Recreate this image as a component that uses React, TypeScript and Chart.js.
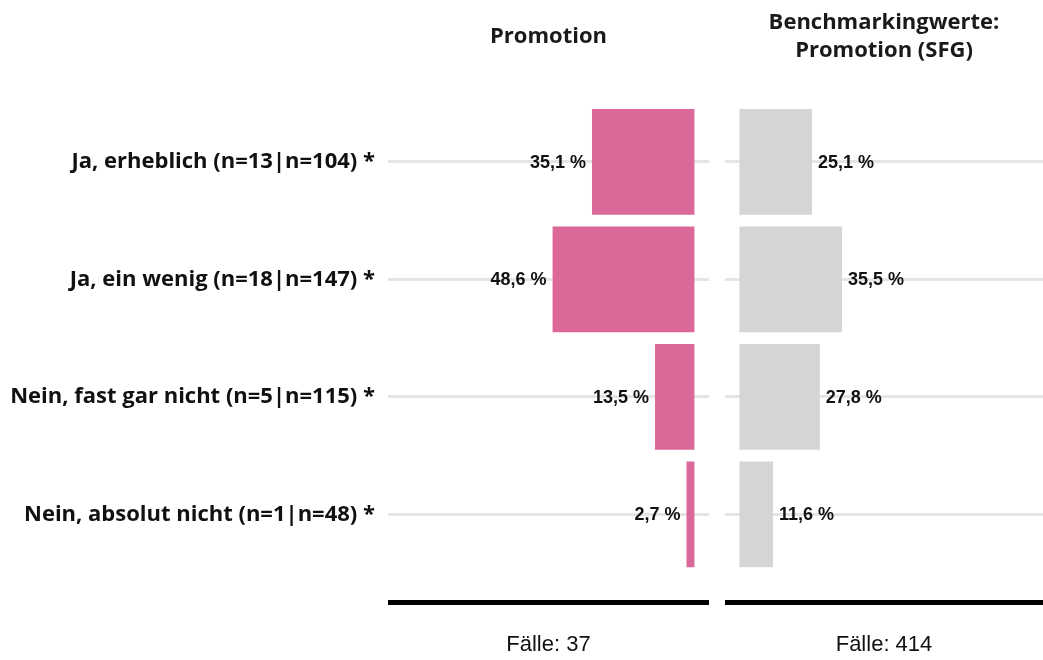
import { useEffect, useRef } from "react";
import { Chart, registerables } from "chart.js";

Chart.register(...registerables);

// Answer categories with sample sizes (own group | benchmark group)
const categories = [
  "Ja, erheblich (n=13|n=104) *",
  "Ja, ein wenig (n=18|n=147) *",
  "Nein, fast gar nicht (n=5|n=115) *",
  "Nein, absolut nicht (n=1|n=48) *",
];

// Shares in percent
const promotionValues = [35.1, 48.6, 13.5, 2.7];
const benchmarkValues = [25.1, 35.5, 27.8, 11.6];

const promotionTitle = ["Promotion"];
const benchmarkTitle = ["Benchmarkingwerte:", "Promotion (SFG)"];
const promotionCases = "Fälle: 37";
const benchmarkCases = "Fälle: 414";

const PINK = "rgb(219,104,152)";
const GREY = "rgb(213,213,213)";
const GRID = "#e5e5e5";
const HEAD_FONT = "'Open Sans', Lato, sans-serif";
const ARIAL = "'Liberation Sans', Arial, sans-serif";

const W = 1043;
const H = 660;
const LEFT_W = 716;
const AREA_TOP = 103;
const AREA_BOTTOM = 573;

function fmt(v: number) {
  return v.toFixed(1).replace(".", ",") + " %";
}

function valueLabels(side: "left" | "right") {
  return {
    id: "valueLabels",
    afterDatasetsDraw(chart: any) {
      const ctx = chart.ctx;
      const meta = chart.getDatasetMeta(0);
      const data = chart.data.datasets[0].data as number[];
      ctx.save();
      ctx.font = `bold 18px ${ARIAL}`;
      ctx.fillStyle = "#111";
      ctx.textBaseline = "middle";
      meta.data.forEach((bar: any, i: number) => {
        const text = fmt(data[i]);
        if (side === "left") {
          ctx.textAlign = "right";
          ctx.fillText(text, bar.x - 6, bar.y + 1);
        } else {
          ctx.textAlign = "left";
          ctx.fillText(text, bar.x + 6, bar.y + 1);
        }
      });
      ctx.restore();
    },
  };
}

function panelDecor(titleLines: string[]) {
  return {
    id: "panelDecor",
    afterDraw(chart: any) {
      const { ctx, chartArea } = chart;
      ctx.save();
      // thick base line under the panel
      ctx.fillStyle = "#000";
      ctx.fillRect(chartArea.left, chartArea.bottom + 27, chartArea.right - chartArea.left, 5);
      // panel heading
      ctx.font = `bold 22px ${HEAD_FONT}`;
      ctx.fillStyle = "#1a1a1a";
      ctx.textAlign = "center";
      ctx.textBaseline = "alphabetic";
      const cx = (chartArea.left + chartArea.right) / 2;
      if (titleLines.length === 1) {
        ctx.fillText(titleLines[0], cx, 43);
      } else {
        titleLines.forEach((line, i) => ctx.fillText(line, cx, 29 + i * 28));
      }
      ctx.restore();
    },
  };
}

function makeConfig(
  values: number[],
  color: string,
  side: "left" | "right",
  titleLines: string[],
  cases: string
): any {
  const isLeft = side === "left";
  return {
    type: "bar",
    data: {
      labels: categories,
      datasets: [
        {
          data: values,
          backgroundColor: color,
          borderWidth: 0,
          categoryPercentage: 0.9,
          barPercentage: 1,
        },
      ],
    },
    options: {
      indexAxis: "y",
      responsive: false,
      animation: false,
      layout: {
        padding: {
          top: AREA_TOP,
          bottom: 0,
          left: isLeft ? 0 : 9,
          right: isLeft ? LEFT_W - 709 : 0,
        },
      },
      plugins: {
        legend: { display: false },
        tooltip: { enabled: false },
        title: { display: false },
      },
      scales: {
        x: {
          type: "linear",
          min: -5,
          max: 105,
          reverse: isLeft,
          grid: { display: false },
          border: { display: false },
          ticks: { display: false },
          title: {
            display: true,
            text: cases,
            color: "#111",
            font: { family: ARIAL, size: 22 },
            padding: { top: 0, bottom: 2 },
          },
          afterFit(axis: any) {
            axis.height = H - AREA_BOTTOM;
          },
        },
        y: {
          type: "category",
          grid: { offset: false, color: GRID, lineWidth: 3, drawTicks: false },
          border: { display: false },
          ticks: {
            display: isLeft,
            color: "#111",
            padding: 13,
            font: { family: HEAD_FONT, size: 22, weight: "bold" },
          },
          afterFit(axis: any) {
            axis.width = isLeft ? 388 : 0;
          },
        },
      },
    },
    plugins: [valueLabels(side), panelDecor(titleLines)],
  };
}

export default function App() {
  const leftRef = useRef<HTMLCanvasElement>(null);
  const rightRef = useRef<HTMLCanvasElement>(null);

  useEffect(() => {
    const left = new Chart(
      leftRef.current!,
      makeConfig(promotionValues, PINK, "left", promotionTitle, promotionCases)
    );
    const right = new Chart(
      rightRef.current!,
      makeConfig(benchmarkValues, GREY, "right", benchmarkTitle, benchmarkCases)
    );
    return () => {
      left.destroy();
      right.destroy();
    };
  }, []);

  return (
    <div style={{ position: "fixed", left: 0, top: 0, width: W, height: H, background: "#fff" }}>
      <canvas
        ref={leftRef}
        width={LEFT_W}
        height={H}
        style={{ position: "absolute", left: 0, top: 0, width: LEFT_W, height: H }}
      />
      <canvas
        ref={rightRef}
        width={W - LEFT_W}
        height={H}
        style={{ position: "absolute", left: LEFT_W, top: 0, width: W - LEFT_W, height: H }}
      />
    </div>
  );
}
